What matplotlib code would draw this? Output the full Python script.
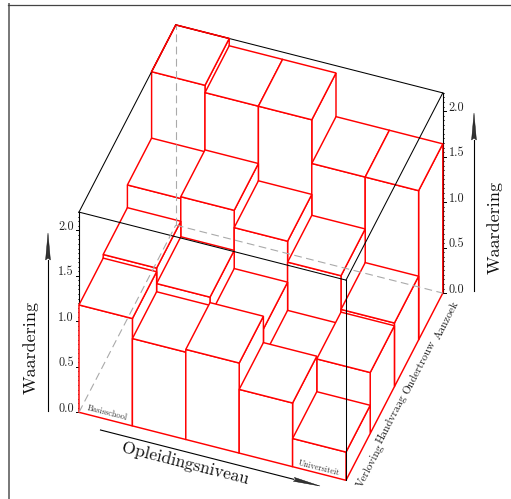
import numpy as np
import matplotlib
matplotlib.use("Agg")
import matplotlib.pyplot as plt
from matplotlib.patches import Polygon

# heights per question, front row first
opleiding = ["Basisschool", "", "", "", "Universiteit"]
vragen = ["Verloving", "Handvraag", "Ondertrouw", "Aanzoek"]
verloving = [1.18, 0.96, 0.99, 0.70, 0.31]
handvraag = [1.22, 1.05, 0.85, 0.54, 0.67]
ondertrouw = [1.47, 1.49, 1.30, 1.07, 0.70]
aanzoek = [2.20, 2.12, 2.12, 1.64, 1.64]
rows = [verloving, handvraag, ondertrouw, aanzoek]
z_ticks = [0.0, 0.5, 1.0, 1.5, 2.0]
z_top = 2.2

plt.rcParams['font.family'] = ['cmr10', 'DejaVu Serif']
plt.rcParams['axes.unicode_minus'] = False

ORIGIN = np.array([79.0, 412.3])
EX = np.array([53.4, 13.6])
EY = np.array([24.2, -46.8])
EZ = np.array([0.0, -91.0])
ANGLE_X = -14.3
ANGLE_Y = 62.7


def proj(x, y, z):
    return ORIGIN + x * EX + y * EY + z * EZ


def arrow(ax, start, end, head=27, width=2.4):
    start = np.array(start, float)
    end = np.array(end, float)
    d = (end - start) / np.linalg.norm(end - start)
    n = np.array([-d[1], d[0]])
    base = end - d * head
    ax.plot([start[0], base[0]], [start[1], base[1]], color="black", lw=0.8, zorder=5)
    ax.add_patch(Polygon([end, base + n * width, base + d * 2, base - n * width],
                         closed=True, fc="#333333", ec="black", lw=0.3, zorder=5))


def box(ax, ix, iy, h):
    front = [proj(ix, iy, 0), proj(ix + 1, iy, 0), proj(ix + 1, iy, h), proj(ix, iy, h)]
    right = [proj(ix + 1, iy, 0), proj(ix + 1, iy + 1, 0), proj(ix + 1, iy + 1, h), proj(ix + 1, iy, h)]
    top = [proj(ix, iy, h), proj(ix + 1, iy, h), proj(ix + 1, iy + 1, h), proj(ix, iy + 1, h)]
    for face in (right, front, top):
        ax.add_patch(Polygon(face, closed=True, fc="white", ec="red", lw=1.05, joinstyle="miter", zorder=2))


fig = plt.figure(figsize=(5.11, 4.99), dpi=100)
ax = fig.add_axes([0, 0, 1, 1])
ax.set_xlim(0, 511)
ax.set_ylim(499, 0)
ax.axis("off")

# page border, only left and top are inside the crop
ax.plot([8.8, 8.8], [4, 499], color="#777777", lw=1.4, zorder=1)
ax.plot([8, 511], [4.5, 4.5], color="#444444", lw=0.9, zorder=1)

# z axes with ticks
for corner, side in (((0, 0), -1), ((5, 4), 1)):
    b = proj(corner[0], corner[1], 0)
    t = proj(corner[0], corner[1], z_top)
    ax.plot([b[0], t[0]], [b[1], t[1]], color="black", lw=0.8, zorder=1)
    for m in np.arange(0, z_top + 0.001, 0.05):
        p = proj(corner[0], corner[1], m)
        ax.plot([p[0], p[0] + side * 1.5], [p[1], p[1]], color="black", lw=0.5, zorder=1)
    for v in z_ticks:
        p = proj(corner[0], corner[1], v)
        ax.plot([p[0], p[0] + side * 3], [p[1], p[1]], color="black", lw=0.7, zorder=1)
        ax.text(p[0] + side * (5 if side < 0 else 6), p[1] - 3.5, f"{v:.1f}", fontsize=8.8, color="#222222",
                ha="right" if side < 0 else "left", va="center", zorder=6)

# bars, back to front and left to right
for iy in range(len(rows) - 1, -1, -1):
    for ix, h in enumerate(rows[iy]):
        box(ax, ix, iy, h)

# wire box on top of the bars
frame = [[(0, 0, z_top), (5, 0, z_top)], [(5, 0, z_top), (5, 0, 0)], [(5, 0, z_top), (5, 4, z_top)],
         [(0, 0, z_top), (0, 4, z_top)], [(0, 4, z_top), (5, 4, z_top)]]
for a, b in frame:
    a, b = proj(*a), proj(*b)
    ax.plot([a[0], b[0]], [a[1], b[1]], color="black", lw=0.75, zorder=3)
dashed = [[(0, 0, 0), (0, 4, 0)], [(0, 4, 0), (0, 4, z_top)], [(0, 4, 0), (5, 4, 0)]]
for a, b in dashed:
    a, b = proj(*a), proj(*b)
    ax.plot([a[0], b[0]], [a[1], b[1]], color="#aaaaaa", lw=0.8, dashes=(7, 4), zorder=3)

# back corner bar stays red over the wire box
corner_edge = [proj(0, 3, aanzoek[0]), proj(0, 4, aanzoek[0]), proj(1, 4, aanzoek[0])]
ax.plot([c[0] for c in corner_edge], [c[1] for c in corner_edge], color="red", lw=1.05, zorder=4)

# axis titles and arrows
ax.text(31, 347, "Waardering", rotation=90, fontsize=13, ha="center", va="center", color="#111111", zorder=6)
ax.text(495, 227, "Waardering", rotation=90, fontsize=13, ha="center", va="center", color="#111111", zorder=6)
ax.text(185.5, 463, "Opleidingsniveau", rotation=ANGLE_X, rotation_mode="anchor", fontsize=12.6,
        ha="center", va="center", color="#111111", zorder=6)
arrow(ax, (48, 411), (48, 233))
arrow(ax, (474, 291), (474, 113))
arrow(ax, (100.5, 430), (320, 486), width=2.0)

ax.text(107, 413.3, opleiding[0], rotation=ANGLE_X, rotation_mode="anchor", fontsize=6,
        ha="center", va="center", color="#333333", zorder=6)
ax.text(318.7, 468.3, opleiding[4], rotation=ANGLE_X, rotation_mode="anchor", fontsize=6,
        ha="center", va="center", color="#333333", zorder=6)

label_pos = [(370, 466), (392, 419), (420, 367), (447, 320)]
for name, (lx, ly) in zip(vragen, label_pos):
    ax.text(lx, ly, name, rotation=ANGLE_Y, rotation_mode="anchor", fontsize=8.1,
            ha="center", va="center", color="#222222", zorder=6)

fig.savefig("out.png", dpi=100)
